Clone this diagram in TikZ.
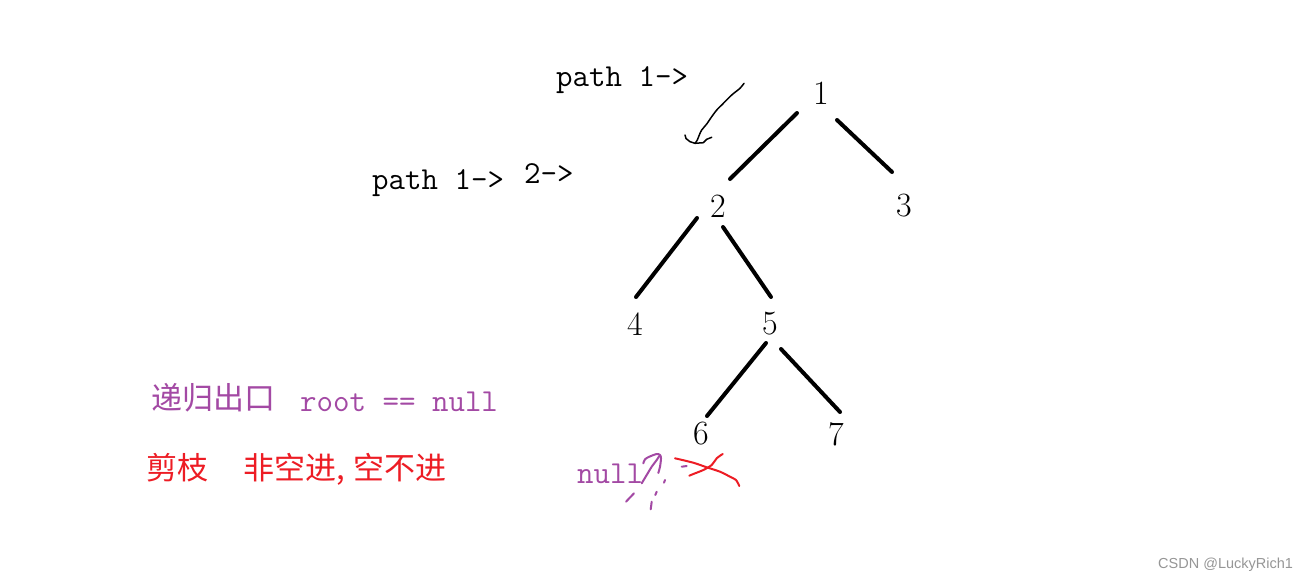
\documentclass[tikz,border=0pt]{standalone}
\usepackage{fontspec}
\newfontfamily\cjk{Noto Sans CJK SC}
\newfontfamily\wmfont{Liberation Sans}
\definecolor{ppurple}{RGB}{163,73,164}
\definecolor{pred}{RGB}{237,28,36}
\definecolor{wmgray}{RGB}{150,150,150}
\begin{document}
\begin{tikzpicture}[x=1pt,y=-1pt,
  tnode/.style={inner sep=0pt, font=\fontsize{34}{34}\selectfont},
  edge/.style={line width=4pt, line cap=round},
  codetext/.style={inner sep=0pt, anchor=base west, font=\fontsize{32}{32}\selectfont\ttfamily},
  cjktext/.style={inner sep=0pt, anchor=base west, font=\fontsize{31}{31}\selectfont\cjk},
  hand/.style={line width=1.5pt, line cap=round, line join=round},
  redhand/.style={hand, pred, line width=2pt},
  purplehand/.style={hand, ppurple, line width=2pt}]
\useasboundingbox[fill=white] (0,0) rectangle (1313,581);

% tree nodes
\node[tnode] (n1) at (821,93.5) {1};
\node[tnode] (n2) at (718,206) {2};
\node[tnode] (n3) at (904,206) {3};
\node[tnode] (n4) at (635,324) {4};
\node[tnode] (n5) at (770,324) {5};
\node[tnode] (n6) at (701,434) {6};
\node[tnode] (n7) at (836,434) {7};

% edges
\draw[edge] ([shift={(-24,19.5)}]n1.center) -- ([shift={(12,-27)}]n2.center);
\draw[edge] ([shift={(16,26.5)}]n1.center) -- ([shift={(-12,-34)}]n3.center);
\draw[edge] ([shift={(-21,12)}]n2.center) -- ([shift={(1,-27)}]n4.center);
\draw[edge] ([shift={(5,21)}]n2.center) -- ([shift={(1,-27)}]n5.center);
\draw[edge] ([shift={(-4,19)}]n5.center) -- ([shift={(6,-18)}]n6.center);
\draw[edge] ([shift={(11,25)}]n5.center) -- ([shift={(4,-22)}]n7.center);

% path labels
\node[codetext] (p1) at (556,86) {path 1->};
\node[codetext] (p2) at (372,189) {path 1->};
\node[codetext] (p3) at (524,183) {2->};

% hand-drawn black arrow
\draw[hand] plot[smooth] coordinates {(744,83.3) (740,88.3) (731.7,95) (721.7,105) (716.7,110) (711.7,116.7) (706.7,124) (701.7,130) (699.3,135) (697.3,140) (695,143.3)};
\draw[hand] (685,135) -- (686,138.5) -- (690,141.7) -- (695,143.3) -- (703.3,142.7) -- (706.7,139.3) -- (711.7,137.3);

% purple text
\node[cjktext, ppurple] (exit) at (151,409) {递归出口};
\node[codetext, ppurple] (cond) at (300,411) {root == null};
\node[codetext, ppurple] (nul) at (577,483) {null};

% red text
\node[cjktext, pred] (prune) at (146,479) {剪枝};
\node[cjktext, pred] (rule) at (243,479) {非空进,\hspace{9pt}空不进};

% purple scribbles
\draw[purplehand] plot[smooth] coordinates {(641.7,483.3) (646.7,475) (651.7,466.7) (656.7,460) (659.3,456)};
\draw[purplehand] plot[smooth] coordinates {(643.3,463.3) (645,459.3) (649.3,456.7) (656.7,454) (660,455) (661,458.3) (660,466.7) (658.3,473)};
\draw[purplehand] (681.7,466.7) -- (686.7,466);
\draw[purplehand] (665,480) -- (664,482.7);
\draw[purplehand] (634,493.3) -- (626,501.7);
\draw[purplehand] (656.7,491.7) -- (655.3,495);
\draw[purplehand] (651.7,501.7) -- (650.7,509.3);

% red cross
\draw[redhand] plot[smooth] coordinates {(675,458.3) (693.3,462.7) (706.7,467.3) (720,471.7) (730,476.7) (736,480) (739.3,486)};
\draw[redhand] plot[smooth] coordinates {(722.7,454) (716.7,458.3) (711.7,465) (703.3,470) (693.3,474) (689.3,475.7)};

% watermark
\node[inner sep=0pt, anchor=base west, font=\fontsize{14.5}{14.5}\selectfont\wmfont, text=wmgray] (wm) at (1158,568) {CSDN @LuckyRich1};
\end{tikzpicture}
\end{document}
